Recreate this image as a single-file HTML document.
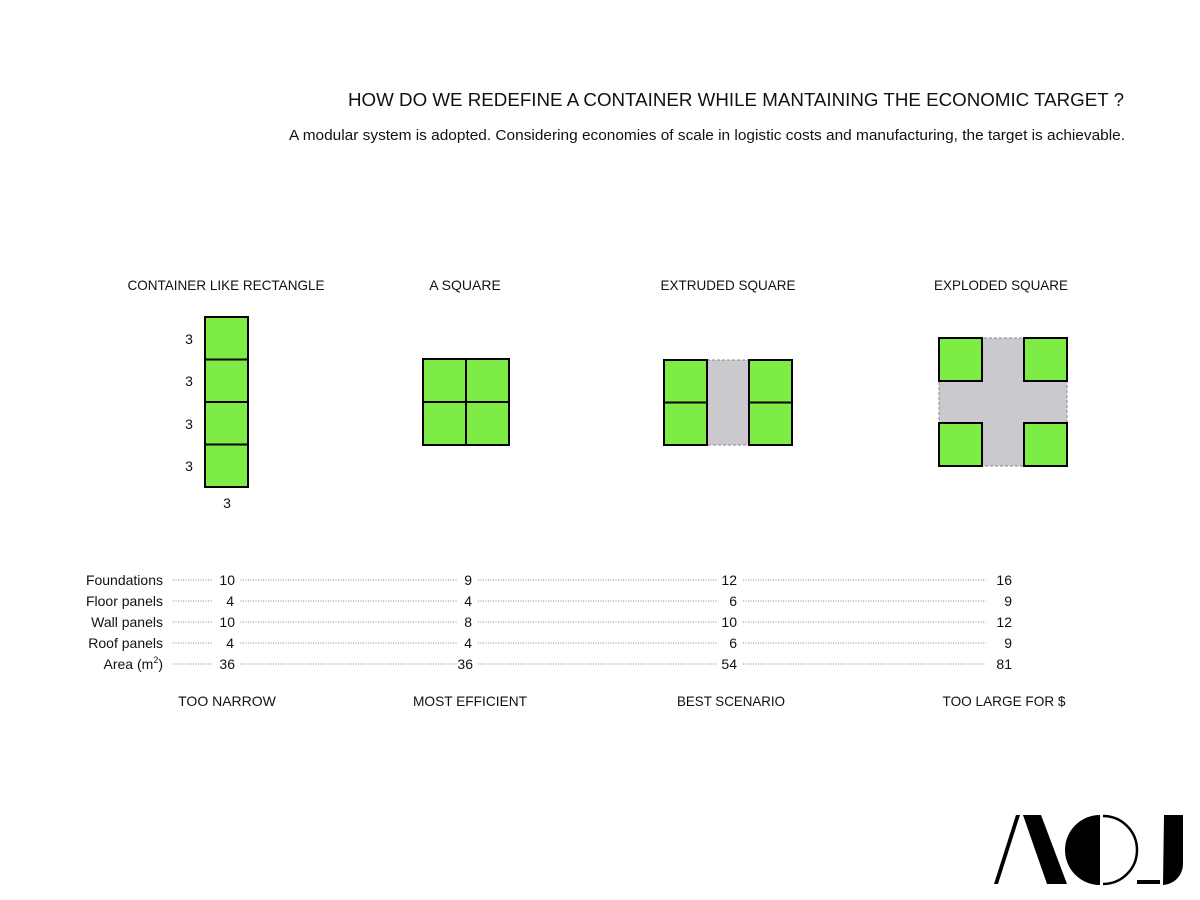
<!DOCTYPE html>
<html><head><meta charset="utf-8"><style>
html,body{margin:0;padding:0;background:#fff;}
svg{display:block;}
text{font-family:"Liberation Sans",sans-serif;fill:#111;}
</style></head><body>
<svg width="1200" height="900" viewBox="0 0 1200 900">
<text x="348" y="106" font-size="18.5" textLength="776" lengthAdjust="spacingAndGlyphs">HOW DO WE REDEFINE A CONTAINER WHILE MANTAINING THE ECONOMIC TARGET ?</text>
<text x="289" y="140" font-size="15" textLength="836" lengthAdjust="spacingAndGlyphs">A modular system is adopted. Considering economies of scale in logistic costs and manufacturing, the target is achievable.</text>

<g font-size="14" text-anchor="middle">
<text x="226" y="290" textLength="197" lengthAdjust="spacingAndGlyphs">CONTAINER LIKE RECTANGLE</text>
<text x="465" y="290">A SQUARE</text>
<text x="728" y="290" textLength="135" lengthAdjust="spacingAndGlyphs">EXTRUDED SQUARE</text>
<text x="1001" y="290" textLength="134" lengthAdjust="spacingAndGlyphs">EXPLODED SQUARE</text>
<text x="227" y="706">TOO NARROW</text>
<text x="470" y="706" textLength="114" lengthAdjust="spacingAndGlyphs">MOST EFFICIENT</text>
<text x="731" y="706" textLength="108" lengthAdjust="spacingAndGlyphs">BEST SCENARIO</text>
<text x="1004" y="706" textLength="123" lengthAdjust="spacingAndGlyphs">TOO LARGE FOR $</text>
</g>

<g fill="#7ded45" stroke="#000" stroke-width="2">
<rect x="205" y="317" width="43" height="42.5"/>
<rect x="205" y="359.5" width="43" height="42.5"/>
<rect x="205" y="402" width="43" height="42.5"/>
<rect x="205" y="444.5" width="43" height="42.5"/>
<rect x="423" y="359" width="43" height="43"/>
<rect x="466" y="359" width="43" height="43"/>
<rect x="423" y="402" width="43" height="43"/>
<rect x="466" y="402" width="43" height="43"/>
</g>
<g font-size="14" text-anchor="middle">
<text x="189" y="344">3</text><text x="189" y="386">3</text><text x="189" y="429">3</text><text x="189" y="471">3</text><text x="227" y="508">3</text>
</g>

<rect x="707" y="360" width="42" height="85" fill="#cbc9ce" stroke="#888" stroke-dasharray="3,2" stroke-width="1"/>
<g fill="#7ded45" stroke="#000" stroke-width="2">
<rect x="664" y="360" width="43" height="42.5"/><rect x="664" y="402.5" width="43" height="42.5"/>
<rect x="749" y="360" width="43" height="42.5"/><rect x="749" y="402.5" width="43" height="42.5"/>
</g>

<rect x="939" y="338" width="128" height="128" fill="#cbc9ce" stroke="#888" stroke-dasharray="3,2" stroke-width="1"/>
<g fill="#7ded45" stroke="#000" stroke-width="2">
<rect x="939" y="338" width="43" height="43"/><rect x="1024" y="338" width="43" height="43"/>
<rect x="939" y="423" width="43" height="43"/><rect x="1024" y="423" width="43" height="43"/>
</g>

<g stroke="#888" stroke-width="1" stroke-dasharray="1,1.5">
<line x1="173" y1="580" x2="988" y2="580"/>
<line x1="173" y1="601" x2="988" y2="601"/>
<line x1="173" y1="622" x2="988" y2="622"/>
<line x1="173" y1="643" x2="988" y2="643"/>
<line x1="173" y1="664" x2="988" y2="664"/>
</g>
<g fill="#fff">
<rect x="212" y="570" width="28" height="100"/>
<rect x="457" y="570" width="20" height="100"/>
<rect x="717" y="570" width="25" height="100"/>
<rect x="986" y="570" width="40" height="100"/>
</g>
<g font-size="14" text-anchor="end">
<text x="163" y="585">Foundations</text>
<text x="163" y="606">Floor panels</text>
<text x="163" y="627">Wall panels</text>
<text x="163" y="648">Roof panels</text>
<text x="163" y="669">Area (m<tspan font-size="9" dy="-6">2</tspan><tspan dy="6">)</tspan></text>
<text x="235" y="585">10</text><text x="234" y="606">4</text><text x="235" y="627">10</text><text x="234" y="648">4</text><text x="235" y="669">36</text>
<text x="472" y="585">9</text><text x="472" y="606">4</text><text x="472" y="627">8</text><text x="472" y="648">4</text><text x="473" y="669">36</text>
<text x="737" y="585">12</text><text x="737" y="606">6</text><text x="737" y="627">10</text><text x="737" y="648">6</text><text x="737" y="669">54</text>
<text x="1012" y="585">16</text><text x="1012" y="606">9</text><text x="1012" y="627">12</text><text x="1012" y="648">9</text><text x="1012" y="669">81</text>
</g>

<g fill="#000">
<polygon points="1016,815 1020,815 998,884 994,884"/>
<polygon points="1023,815 1041,815 1067,884 1047,884"/>
<path d="M1100,815 A35,35 0 0 0 1100,885 Z"/>
<path d="M1103,816 A34,34 0 0 1 1103,884" fill="none" stroke="#000" stroke-width="2.5"/>
<rect x="1137" y="880" width="23" height="4"/>
<path d="M1164,815 L1183,815 L1183,864 A21,21 0 0 1 1163,885 L1163,884 Z"/>
</g>
</svg>
</body></html>
